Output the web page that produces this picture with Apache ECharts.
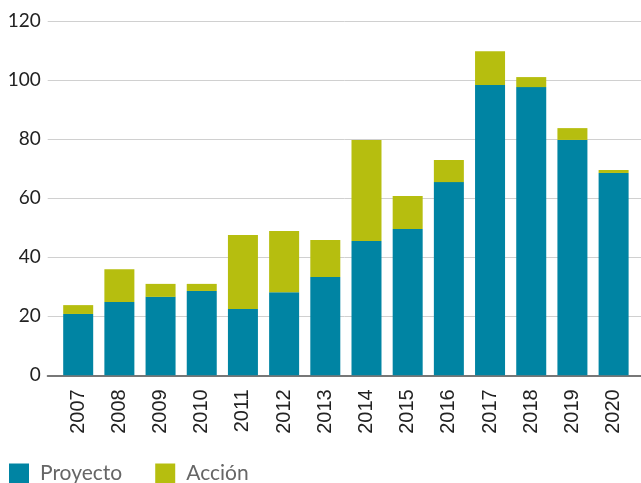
<!DOCTYPE html>
<html>
<head>
<meta charset="utf-8">
<script src="https://cdn.jsdelivr.net/npm/echarts@6/dist/echarts.min.js"></script>
<style>html,body{margin:0;padding:0;background:#fff;}#c{width:641px;height:483px;}</style>
</head>
<body>
<div id="c"></div>
<script>
var categories = ['2007','2008','2009','2010','2011','2012','2013','2014','2015','2016','2017','2018','2019','2020'];
var proyecto = [20.8, 24.9, 26.6, 28.6, 22.5, 28.2, 33.3, 45.5, 49.6, 65.5, 98.4, 97.7, 79.8, 68.6];
var accion = [3, 11.1, 4.4, 2.4, 25.1, 20.7, 12.6, 34.3, 11.2, 7.5, 11.5, 3.4, 4, 1];
var yTicks = [0, 20, 40, 60, 80, 100, 120];

var chart = echarts.init(document.getElementById('c'));
chart.setOption({
  animation: false,
  grid: [
    {left: 47.7, right: 0, top: 21.33, bottom: 107.67},
    {left: 57.6, right: 6.8, top: 21.33, bottom: 107.67}
  ],
  legend: {
    left: 9, top: 463, padding: 0,
    itemWidth: 20, itemHeight: 20, itemGap: 33,
    icon: 'rect',
    textStyle: {fontFamily: 'Lato', fontSize: 21, color: '#666', padding: [0, 0, 0, 6]},
    data: ['Proyecto', 'Acción']
  },
  xAxis: [
    {gridIndex: 0, type: 'value', min: 0, max: 1, show: true,
     axisLine: {show: true, lineStyle: {color: '#777', width: 2}},
     axisTick: {show: false}, axisLabel: {show: false}, splitLine: {show: false}},
    {gridIndex: 1, type: 'category', data: categories,
     axisLine: {show: false}, axisTick: {show: false},
     axisLabel: {rotate: 90, margin: 14, fontFamily: 'Liberation Sans', fontSize: 20, color: '#222'}}
  ],
  yAxis: [
    {gridIndex: 0, type: 'value', min: yTicks[0], max: yTicks[yTicks.length - 1], interval: 20,
     axisLine: {show: false}, axisTick: {show: false},
     axisLabel: {margin: 7, fontFamily: 'Lato', fontSize: 19, color: '#222'},
     splitLine: {show: true, lineStyle: {color: '#d0d0d0', width: 1}}},
    {gridIndex: 1, type: 'value', min: yTicks[0], max: yTicks[yTicks.length - 1], show: false,
     splitLine: {show: false}}
  ],
  series: [
    {name: 'Proyecto', type: 'bar', stack: 'a', xAxisIndex: 1, yAxisIndex: 1,
     barWidth: 30, itemStyle: {color: '#0084a3'}, data: proyecto},
    {name: 'Acción', type: 'bar', stack: 'a', xAxisIndex: 1, yAxisIndex: 1,
     barWidth: 30, itemStyle: {color: '#b6be0f'}, data: accion}
  ]
});
</script>
</body>
</html>
